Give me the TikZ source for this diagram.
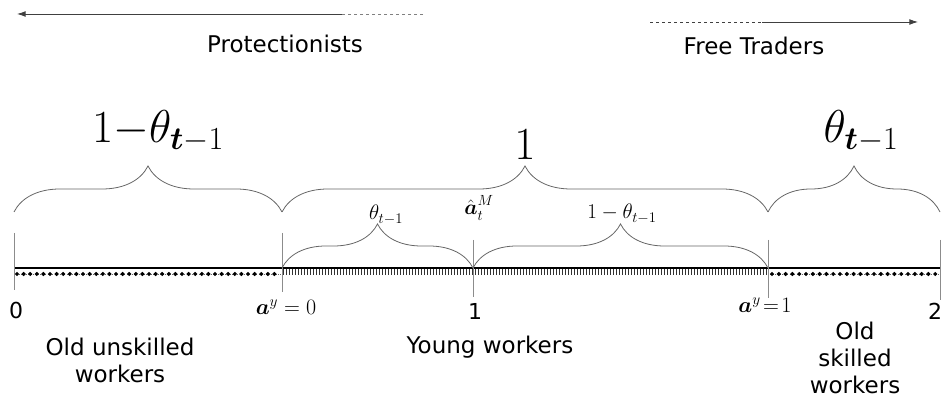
\RequirePackage{fix-cm}
\documentclass[tikz,border=0pt]{standalone}
\usepackage{amsmath,amssymb}
\usepackage[no-math]{fontspec}
\setmainfont{DejaVu Sans}
\usetikzlibrary{arrows.meta,positioning,decorations.pathreplacing}
\tikzset{
  tickline/.style={draw=gray!90,line width=.8pt},
  groupbrace/.style={decorate,decoration={brace,amplitude=#1},draw=gray!80!black,line width=.8pt},
  sidearrow/.style={draw=black!75,line width=.8pt},
  tiparrow/.style={sidearrow,-{Latex[length=3mm,width=2mm]}},
  grouplabel/.style={align=center,inner sep=0pt,font=\fontsize{23}{27}\selectfont},
  pointlabel/.style={inner sep=0pt,font=\fontsize{22}{24}\selectfont},
  biglabel/.style={anchor=base,inner sep=0pt,font=\fontsize{46}{50}\selectfont},
  smalllabel/.style={anchor=base,inner sep=0pt,font=\fontsize{21}{24}\selectfont}
}

\begin{document}
\begin{tikzpicture}[x=1pt,y=1pt]
  \useasboundingbox (0,0) rectangle (942,409);
  % top arrows
  \coordinate (pe) at (17,395);
  \coordinate (pm) at (342,395);
  \coordinate (pl) at (423,395);
  \coordinate (fl) at (650,387);
  \coordinate (fm) at (762,387);
  \coordinate (fe) at (918,387);
  \draw[sidearrow,dashed,draw=gray] (pl) -- (pm);
  \draw[tiparrow] (pm) -- (pe);
  \draw[sidearrow,dashed] (fl) -- (fm);
  \draw[tiparrow] (fm) -- (fe);
  \node[grouplabel] (prot) at (285,365) {Protectionists};
  \node[grouplabel] (free) at (754,363) {Free Traders};
  % axis points
  \coordinate (x0) at (14,141);
  \coordinate (xa) at (282,141);
  \coordinate (x1) at (473,141);
  \coordinate (xb) at (768,141);
  \coordinate (x2) at (940,141);
  % marks under the axis
  \foreach \x in {283,286,...,767}
    \draw[black!80,line width=.6pt] (\x,141) -- (\x,134);
  \draw[black!60,line width=.4pt,dotted] (14,135) -- (282,135);
  \draw[black!60,line width=.4pt,dotted] (768,135) -- (940,135);
  \foreach \x in {17,23.6,...,280}
    \fill (\x,135) +(-2.2,0) -- +(0,2.2) -- +(2.2,0) -- +(0,-2.2) -- cycle;
  \foreach \x in {772,778.8,...,940}
    \fill (\x,135) +(-2.2,0) -- +(0,2.2) -- +(2.2,0) -- +(0,-2.2) -- cycle;
  \draw[line width=1.6pt] (x0) -- (x2);
  % ticks
  \draw[tickline] (14,176) -- (14,119);
  \draw[tickline] (282,176) -- (282,117);
  \draw[tickline] (473,169) -- (473,112);
  \draw[tickline] (768,169) -- (768,111);
  \draw[tickline] (940,169) -- (940,109);
  % big braces
  \coordinate (b0) at (14,197);
  \coordinate (ba) at (282,197);
  \coordinate (bb) at (768,197);
  \coordinate (b2) at (940,197);
  \draw[groupbrace=46pt] (b0) -- (ba);
  \draw[groupbrace=46pt] (ba) -- (bb);
  \draw[groupbrace=46pt] (bb) -- (b2);
  \node[biglabel] (oldu) at (158,266) {$1\mkern-4mu-\mkern-4mu\theta_{\boldsymbol{t}-1}$};
  \node[biglabel] (young) at (525,249) {$1$};
  \node[biglabel] (olds) at (861,266) {$\theta_{\boldsymbol{t}-1}$};
  % small braces
  \draw[groupbrace=44pt] (xa) -- (x1);
  \draw[groupbrace=44pt] (x1) -- (xb);
  \node[smalllabel] (yl) at (386,189) {$\theta_{t-1}$};
  \node[smalllabel] (ahat) at (479,194) {$\hat{\boldsymbol{a}}_t^M$};
  \node[smalllabel] (yr) at (622,190) {$1-\theta_{t-1}$};
  % point labels
  \node[pointlabel] (l0) at (16,99) {0};
  \node[pointlabel] (la) at (286,102) {$\boldsymbol{a}^y=0$};
  \node[pointlabel] (l1) at (475,98) {1};
  \node[pointlabel] (lb) at (765,104) {$\boldsymbol{a}^y\mkern-3mu=\mkern-3mu1$};
  \node[pointlabel] (l2) at (935,98) {2};
  % groups
  \node[grouplabel] (gu) at (120,49) {Old unskilled\\workers};
  \node[grouplabel] (gy) at (490,62) {Young workers};
  \node[grouplabel] (gs) at (855,51) {Old\\skilled\\workers};
\end{tikzpicture}
\end{document}
